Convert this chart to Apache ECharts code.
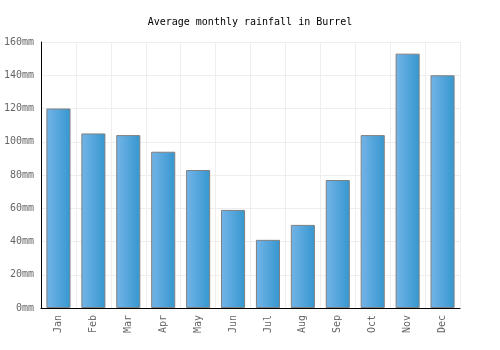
<!DOCTYPE html>
<html>
<head>
<meta charset="utf-8">
<script src="https://cdn.jsdelivr.net/npm/echarts@6/dist/echarts.min.js"></script>
<style>
    html, body { margin: 0; padding: 0; background: #fff; }
    #chart { width: 500px; height: 350px; }
</style>
</head>
<body>
<div id="chart"></div>
<script>
var months = ['Jan', 'Feb', 'Mar', 'Apr', 'May', 'Jun', 'Jul', 'Aug', 'Sep', 'Oct', 'Nov', 'Dec'];
var rainfall = [120, 105, 104, 94, 83, 59, 41, 50, 77, 104, 153, 140];

document.addEventListener('DOMContentLoaded', function () {
    var chartDom = document.getElementById('chart');
    var myChart = echarts.init(chartDom);
    var option;
    var mono = '"DejaVu Sans Mono", monospace';

    option = {
        animation: false,
        title: {
            text: 'Average monthly rainfall in Burrel',
            left: 'center',
            top: 12,
            textStyle: { fontFamily: mono, fontSize: 10, fontWeight: 'normal', color: '#000' }
        },
        grid: { left: 41, right: 40, top: 42, bottom: 42 },
        xAxis: {
            type: 'category',
            data: months,
            axisLine: { lineStyle: { color: '#000' } },
            axisTick: { show: false },
            splitLine: { show: true, lineStyle: { color: '#eeeeee' } },
            axisLabel: { rotate: 90, fontFamily: mono, fontSize: 10, color: '#666', margin: 7 }
        },
        yAxis: {
            type: 'value',
            min: 0,
            max: 160,
            interval: 20,
            axisLine: { show: true, lineStyle: { color: '#000' } },
            axisTick: { show: false },
            splitLine: { lineStyle: { color: '#eeeeee' } },
            axisLabel: { formatter: '{value}mm', fontFamily: mono, fontSize: 10, color: '#666', margin: 7 }
        },
        series: [
            {
                type: 'bar',
                data: rainfall,
                barCategoryGap: '31%',
                itemStyle: {
                    color: new echarts.graphic.LinearGradient(0, 0, 1, 0, [
                        { offset: 0, color: '#74b4e8' },
                        { offset: 1, color: '#3597cf' }
                    ]),
                    borderColor: '#808080',
                    borderWidth: 1
                }
            }
        ]
    };

    option && myChart.setOption(option);
});
</script>
</body>
</html>
